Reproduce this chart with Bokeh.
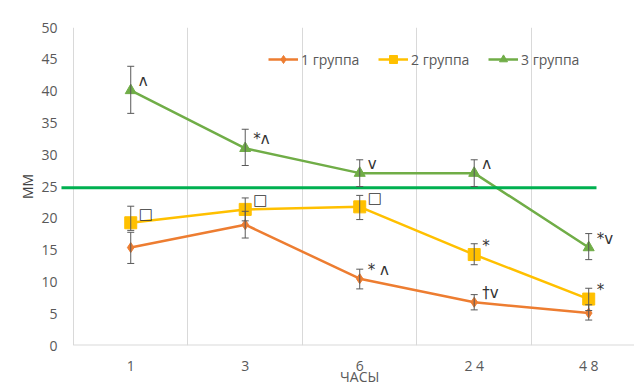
from bokeh.plotting import figure
from bokeh.models import (ColumnDataSource, Whisker, TeeHead, Legend, LegendItem,
                          FixedTicker, BoxAnnotation, GlobalInlineStyleSheet)
from bokeh.core.properties import value
from bokeh.embed import file_html
from bokeh.resources import INLINE

# ---------------- data ----------------
hours = ["1", "3", "6", "2 4", "4 8"]
x_title = "ЧАСЫ"
y_title = "MM"
names = ["1 группа", "2 группа", "3 группа"]

g1 = [15.4, 19.0, 10.5, 6.8, 5.1]
g1_low = [12.9, 16.9, 8.9, 5.6, 4.0]
g1_up = [17.8, 21.1, 12.0, 8.0, 6.4]

g2 = [19.3, 21.4, 21.8, 14.3, 7.3]
g2_low = [18.1, 19.6, 19.8, 12.7, 5.5]
g2_up = [21.9, 23.2, 23.6, 16.0, 9.0]

g3 = [40.1, 31.0, 27.1, 27.1, 15.4]
g3_low = [36.5, 28.3, 25.0, 25.0, 13.5]
g3_up = [43.9, 34.0, 29.2, 29.2, 17.6]

ref_level = 24.8
y_ticks = [0, 5, 10, 15, 20, 25, 30, 35, 40, 45, 50]

# significance marks: group index, hour index, text
ann_group = [2, 2, 2, 2, 2, 1, 1, 1, 1, 1, 0, 0]
ann_hour = [0, 1, 2, 3, 4, 0, 1, 2, 3, 4, 2, 3]
ann_text = ["ʌ", "*ʌ", "v", "ʌ", "*v", "□", "□", "□", "*", "*", "* ʌ", "†v"]

# ---------------- styles ----------------
colors = ["#ED7D31", "#FFC000", "#70AD47"]
markers = ["diamond", "square", "triangle"]
msizes = [10, 12, 11]
FONT = "Open Sans"
TXT = "#595959"
GRID = "#d9d9d9"

p = figure(frame_width=574, frame_height=318,
           x_range=(-0.6135, 4.40), y_range=(0, 50),
           output_backend="svg", toolbar_location=None,
           min_border_left=60, min_border_right=0, min_border_top=27,
           min_border_bottom=42)
p.outline_line_color = None
p.background_fill_color = "white"
# the chart is cropped at the window's bottom edge, as in the reference
p.stylesheets = [GlobalInlineStyleSheet(css="html, body { overflow: hidden; }")]

# outer chart border (top and left visible)
p.add_layout(BoxAnnotation(left=8, right=700, top=10, bottom=600,
                           left_units="canvas", right_units="canvas",
                           top_units="canvas", bottom_units="canvas",
                           fill_alpha=0, line_color=GRID, line_width=1,
                           level="underlay"))

# grid: vertical category boundaries only
p.ygrid.grid_line_color = None
p.xgrid.ticker = FixedTicker(ticks=[-0.5, 0.5, 1.5, 2.5, 3.5, 4.5])
p.xgrid.grid_line_color = GRID
p.xgrid.grid_line_width = 1

xs = list(range(len(hours)))
labels = {i: h for i, h in enumerate(hours)}
labels[2] = hours[2] + "\n" + x_title   # axis title sits under the middle tick

p.xaxis.ticker = FixedTicker(ticks=xs)
p.xaxis.major_label_overrides = labels
p.xaxis.axis_line_color = None
p.xaxis.major_tick_line_color = None
p.xaxis.minor_tick_line_color = None
p.xaxis.major_label_standoff = 4
p.xaxis.major_label_text_font = FONT
p.xaxis.major_label_text_font_size = "14px"
p.xaxis.major_label_text_color = TXT
p.xaxis.major_label_text_line_height = 0.6

p.yaxis.ticker = FixedTicker(ticks=y_ticks)
p.yaxis.axis_line_color = None
p.yaxis.major_tick_line_color = None
p.yaxis.minor_tick_line_color = None
p.yaxis.major_label_standoff = -3
p.yaxis.major_label_text_font = FONT
p.yaxis.major_label_text_font_size = "14px"
p.yaxis.major_label_text_color = TXT
p.yaxis.axis_label = y_title
p.yaxis.axis_label_standoff = 1
p.yaxis.axis_label_text_font = FONT
p.yaxis.axis_label_text_font_size = "14px"
p.yaxis.axis_label_text_font_style = "normal"
p.yaxis.axis_label_text_color = "#404040"

# x baseline
p.segment(x0=-0.5, y0=0, x1=4.40, y1=0, line_color=GRID, line_width=2)

series = [(g1, g1_low, g1_up), (g2, g2_low, g2_up), (g3, g3_low, g3_up)]
items = []
for i, (vals, low, up) in enumerate(series):
    src = ColumnDataSource(dict(x=xs, y=vals, lower=low, upper=up))
    lr = p.line("x", "y", source=src, line_color=colors[i], line_width=2.5)
    w = Whisker(base="x", upper="upper", lower="lower", source=src,
                line_color="#595959", line_width=1, level="glyph",
                upper_head=TeeHead(size=7, line_color="#595959", line_width=1),
                lower_head=TeeHead(size=7, line_color="#595959", line_width=1))
    p.add_layout(w)
    sr = p.scatter("x", "y", source=src, marker=markers[i], size=msizes[i],
                   fill_color=colors[i], line_color=colors[i])
    items.append(LegendItem(label=names[i], renderers=[lr, sr]))

# reference level line
p.segment(x0=-0.605, y0=ref_level, x1=4.068, y1=ref_level,
          line_color="#00B050", line_width=3)

# significance marks
all_vals = [g1, g2, g3]
ann_x = ann_hour
ann_y = [all_vals[g][h] for g, h in zip(ann_group, ann_hour)]
p.text(x=ann_x, y=ann_y, text=ann_text, x_offset=8, y_offset=-9,
       text_font=value("DejaVu Sans"), text_font_size="15px",
       text_color="#333333", text_baseline="middle", text_align="left")

legend = Legend(items=items, orientation="horizontal", location=(208, 276),
                glyph_width=30, glyph_height=20, label_standoff=3, spacing=18,
                label_width=59, padding=0, margin=0, border_line_color=None,
                background_fill_alpha=0, label_text_font=FONT,
                label_text_font_size="14px", label_text_color=TXT)
p.add_layout(legend)

open("out.html", "w").write(file_html(p, INLINE))
